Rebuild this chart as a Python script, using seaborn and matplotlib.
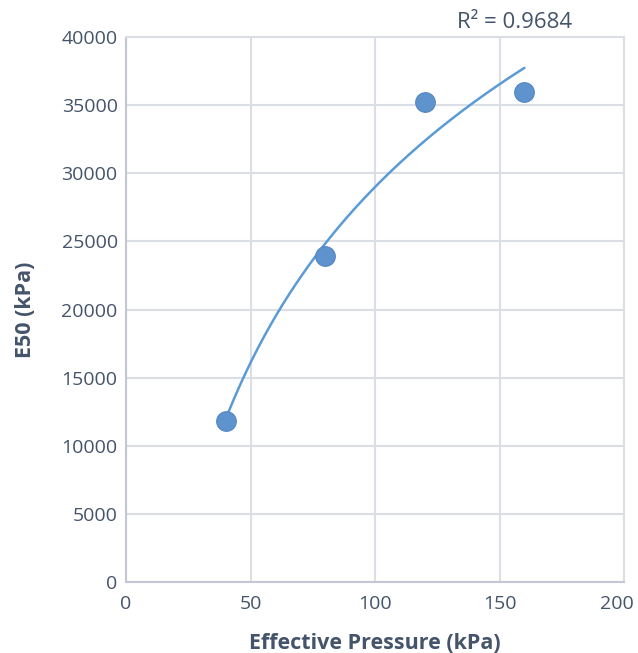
import matplotlib

matplotlib.use("Agg")

import matplotlib.pyplot as plt
import matplotlib.transforms as mtransforms
import numpy as np
import pandas as pd
import seaborn as sns

PRESSURE = [40, 80, 120, 160]
E50 = [11800, 23950, 35200, 35950]
X_TICKS = [0, 50, 100, 150, 200]
Y_TICKS = [0, 5000, 10000, 15000, 20000, 25000, 30000, 35000, 40000]
R2_LABEL = "R² = 0.9684"

TEXT_COLOR = "#44546a"
GRID_COLOR = "#dcdee6"
POINT_COLOR = "#5f93cd"

sns.set_theme(style="white")
plt.rcParams["font.family"] = ["Open Sans", "DejaVu Sans"]

df = pd.DataFrame({"pressure": PRESSURE, "e50": E50})

# logarithmic trendline, fitted to the points
a, b = np.polyfit(np.log(df["pressure"]), df["e50"], 1)
fit_x = np.linspace(min(PRESSURE), max(PRESSURE), 200)
fit = pd.DataFrame({"pressure": fit_x, "e50": a * np.log(fit_x) + b})

fig = plt.figure(figsize=(6.38, 6.53), dpi=100)
ax = fig.add_axes([0.1975, 0.1087, 0.7806, 0.8346])

sns.lineplot(data=fit, x="pressure", y="e50", ax=ax, color="#5b9bd5", linewidth=1.8)
sns.scatterplot(
    data=df,
    x="pressure",
    y="e50",
    ax=ax,
    s=200,
    color=POINT_COLOR,
    edgecolor="#5386c2",
    linewidth=0.8,
    zorder=3,
)

ax.set_xlim(0, 200)
ax.set_ylim(0, 40000)
ax.set_xticks(X_TICKS)
ax.set_yticks(Y_TICKS)
ax.grid(True, color=GRID_COLOR, linewidth=1.5)
ax.set_axisbelow(True)
for side in ["top", "right"]:
    ax.spines[side].set_color(GRID_COLOR)
    ax.spines[side].set_linewidth(1.5)
for side in ["left", "bottom"]:
    ax.spines[side].set_color("#c2c7d3")
    ax.spines[side].set_linewidth(1.5)

ax.tick_params(axis="both", colors=TEXT_COLOR, labelsize=14, length=0)
ax.tick_params(axis="x", pad=9)
ax.tick_params(axis="y", pad=6)

# keep the last x label inside the figure, like the original
last = ax.get_xticklabels()[-1]
last.set_transform(last.get_transform()
                   + mtransforms.ScaledTranslation(-7 / 100, 0, fig.dpi_scale_trans))

ax.set_xlabel("Effective Pressure (kPa)", fontsize=15.5, fontweight="bold",
              color=TEXT_COLOR, labelpad=15)
ax.set_ylabel("E50 (kPa)", fontsize=15.5, fontweight="bold",
              color=TEXT_COLOR, labelpad=18)

fig.text(0.807, 0.966, R2_LABEL, ha="center", va="center",
         fontsize=16, color=TEXT_COLOR)

fig.savefig("out.png", dpi=100, facecolor="white")
